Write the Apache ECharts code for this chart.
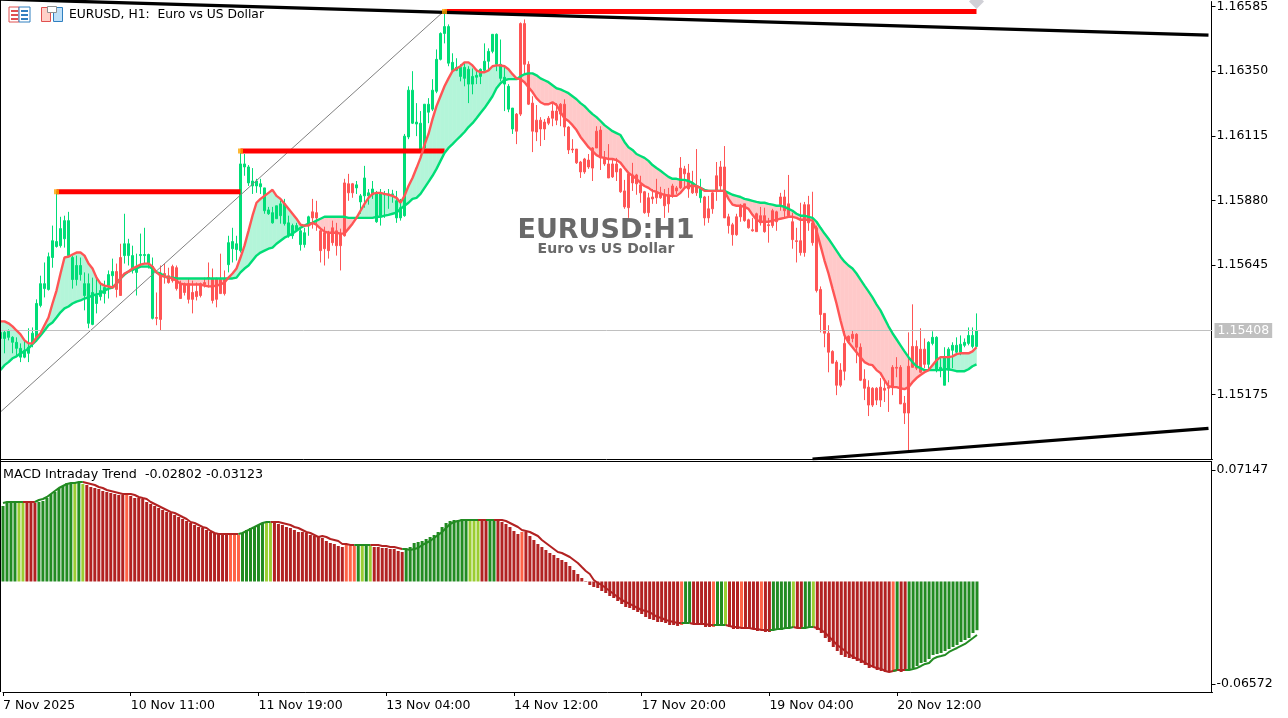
<!DOCTYPE html>
<html><head><meta charset="utf-8">
<script src="https://cdn.jsdelivr.net/npm/echarts@6/dist/echarts.min.js"></script>
<style>html,body{margin:0;padding:0;background:#fff}#c{width:1288px;height:718px}</style>
</head><body><div id="c"></div>
<script>
const open=[1.15379,1.15379,1.15383,1.15365,1.15343,1.15311,1.15311,1.15325,1.15361,1.15383,
1.15499,1.15560,1.15557,1.15673,1.15713,1.15716,1.15741,1.15680,1.15593,1.15593,
1.15611,1.15535,1.15434,1.15430,1.15506,1.15531,1.15542,1.15571,1.15607,1.15622,
1.15673,1.15680,1.15680,1.15626,1.15619,1.15680,1.15680,1.15651,1.15452,1.15455,
1.15607,1.15615,1.15607,1.15640,1.15636,1.15578,1.15578,1.15578,1.15546,1.15550,
1.15578,1.15582,1.15600,1.15597,1.15597,1.15593,1.15593,1.15647,1.15705,1.15702,
1.15698,1.16002,1.15944,1.15933,1.15933,1.15930,1.15843,1.15832,1.15799,1.15814,
1.15825,1.15796,1.15752,1.15752,1.15774,1.15720,1.15720,1.15789,1.15839,1.15836,
1.15770,1.15763,1.15763,1.15781,1.15770,1.15760,1.15944,1.15941,1.15941,1.15926,
1.15875,1.15897,1.15897,1.15901,1.15803,1.15825,1.15901,1.15901,1.15901,1.15817,
1.15817,1.15825,1.16111,1.16161,1.16158,1.16067,1.16071,1.16201,1.16212,1.16277,
1.16393,1.16487,1.16379,1.16353,1.16353,1.16331,1.16324,1.16303,1.16303,1.16328,
1.16331,1.16353,1.16386,1.16422,1.16375,1.16324,1.16303,1.16212,1.16140,1.16194,
1.16523,1.16523,1.16375,1.16234,1.16172,1.16172,1.16165,1.16179,1.16205,1.16205,
1.16230,1.16230,1.16147,1.16067,1.16067,1.16020,1.16031,1.16027,1.16071,1.16132,
1.16136,1.16035,1.16013,1.16013,1.16013,1.15995,1.15915,1.15977,1.15973,1.15973,
1.15937,1.15912,1.15890,1.15893,1.15908,1.15908,1.15901,1.15901,1.15933,1.15926,
1.15998,1.15995,1.15980,1.15944,1.15933,1.15890,1.15893,1.15850,1.15908,1.15970,
1.16002,1.16002,1.15821,1.15792,1.15821,1.15857,1.15868,1.15810,1.15774,1.15832,
1.15825,1.15825,1.15792,1.15843,1.15839,1.15893,1.15893,1.15868,1.15803,1.15734,
1.15734,1.15865,1.15865,1.15799,1.15781,1.15557,1.15470,1.15398,1.15332,1.15293,
1.15264,1.15361,1.15387,1.15394,1.15394,1.15347,1.15231,1.15202,1.15198,1.15198,
1.15202,1.15198,1.15202,1.15274,1.15274,1.15274,1.15144,1.15278,1.15350,1.15350,
1.15340,1.15340,1.15285,1.15361,1.15264,1.15267,1.15209,1.15264,1.15336,1.15329,
1.15329,1.15354,1.15361,1.15350,1.15350];
const close=[1.15401,1.15401,1.15405,1.15383,1.15365,1.15343,1.15336,1.15347,1.15398,1.15506,
1.15578,1.15578,1.15676,1.15734,1.15731,1.15778,1.15807,1.15807,1.15673,1.15644,
1.15644,1.15578,1.15578,1.15546,1.15535,1.15553,1.15564,1.15611,1.15622,1.15557,
1.15535,1.15723,1.15723,1.15680,1.15633,1.15684,1.15684,1.15684,1.15640,1.15452,
1.15448,1.15607,1.15582,1.15589,1.15560,1.15524,1.15546,1.15521,1.15521,1.15531,
1.15535,1.15575,1.15597,1.15517,1.15521,1.15542,1.15542,1.15727,1.15731,1.15723,
1.16013,1.16013,1.16002,1.15951,1.15951,1.15941,1.15926,1.15846,1.15836,1.15861,
1.15868,1.15868,1.15799,1.15789,1.15789,1.15770,1.15763,1.15821,1.15817,1.15817,
1.15698,1.15705,1.15698,1.15727,1.15716,1.15716,1.15752,1.15908,1.15908,1.15937,
1.15897,1.15962,1.15908,1.15922,1.15908,1.15904,1.15904,1.15904,1.15904,1.15879,
1.15854,1.16114,1.16281,1.16281,1.16165,1.16161,1.16230,1.16230,1.16281,1.16393,
1.16487,1.16512,1.16512,1.16382,1.16364,1.16364,1.16364,1.16357,1.16331,1.16335,
1.16357,1.16386,1.16422,1.16484,1.16484,1.16375,1.16328,1.16295,1.16216,1.16132,
1.16194,1.16375,1.16230,1.16132,1.16129,1.16140,1.16140,1.16161,1.16179,1.16172,
1.16194,1.16147,1.16064,1.16064,1.16017,1.15984,1.15984,1.16002,1.15998,1.16071,
1.16035,1.16013,1.15962,1.15966,1.15984,1.15912,1.15857,1.15854,1.15944,1.15941,
1.15908,1.15836,1.15836,1.15886,1.15890,1.15890,1.15861,1.15868,1.15901,1.15915,
1.15926,1.15977,1.15922,1.15908,1.15908,1.15926,1.15817,1.15817,1.15850,1.15915,
1.15933,1.15817,1.15789,1.15756,1.15756,1.15821,1.15807,1.15781,1.15770,1.15767,
1.15799,1.15767,1.15789,1.15789,1.15803,1.15865,1.15843,1.15825,1.15738,1.15731,
1.15691,1.15691,1.15799,1.15727,1.15553,1.15466,1.15398,1.15329,1.15289,1.15209,
1.15209,1.15260,1.15369,1.15379,1.15347,1.15227,1.15198,1.15137,1.15137,1.15155,
1.15155,1.15191,1.15198,1.15206,1.15271,1.15141,1.15108,1.15108,1.15274,1.15271,
1.15256,1.15285,1.15365,1.15383,1.15383,1.15274,1.15311,1.15340,1.15354,1.15354,
1.15358,1.15365,1.15390,1.15390,1.15408];
const high=[1.15408,1.15408,1.15412,1.15387,1.15383,1.15361,1.15372,1.15416,1.15419,1.15521,
1.15607,1.15655,1.15691,1.15789,1.15915,1.15821,1.15825,1.15839,1.15680,1.15680,
1.15673,1.15619,1.15615,1.15600,1.15607,1.15578,1.15589,1.15626,1.15669,1.15651,
1.15723,1.15832,1.15741,1.15716,1.15687,1.15760,1.15781,1.15687,1.15673,1.15546,
1.15644,1.15651,1.15636,1.15647,1.15644,1.15589,1.15582,1.15597,1.15589,1.15582,
1.15582,1.15600,1.15655,1.15633,1.15600,1.15687,1.15626,1.15752,1.15781,1.15752,
1.16053,1.16049,1.16009,1.15998,1.15959,1.15959,1.15926,1.15857,1.15857,1.15861,
1.15879,1.15886,1.15825,1.15796,1.15799,1.15781,1.15781,1.15825,1.15886,1.15879,
1.15778,1.15785,1.15770,1.15807,1.15799,1.15778,1.15959,1.15977,1.15944,1.15951,
1.15904,1.16006,1.15922,1.15951,1.15915,1.15922,1.15915,1.15922,1.15919,1.15915,
1.15886,1.16122,1.16295,1.16350,1.16234,1.16205,1.16230,1.16252,1.16321,1.16429,
1.16491,1.16563,1.16520,1.16415,1.16397,1.16375,1.16379,1.16368,1.16360,1.16357,
1.16360,1.16451,1.16433,1.16484,1.16487,1.16465,1.16368,1.16303,1.16216,1.16198,
1.16527,1.16538,1.16386,1.16259,1.16227,1.16183,1.16176,1.16187,1.16234,1.16234,
1.16234,1.16248,1.16150,1.16103,1.16067,1.16024,1.16035,1.16049,1.16074,1.16150,
1.16150,1.16060,1.16085,1.16031,1.16035,1.15998,1.15955,1.15980,1.16017,1.15977,
1.15970,1.15915,1.15908,1.15922,1.15959,1.15930,1.15922,1.15926,1.15941,1.15933,
1.16038,1.16006,1.16013,1.15988,1.16067,1.15959,1.15897,1.15897,1.15915,1.16020,
1.16024,1.16078,1.15832,1.15799,1.15832,1.15868,1.15868,1.15814,1.15817,1.15836,
1.15857,1.15854,1.15817,1.15850,1.15843,1.15908,1.15919,1.15973,1.15836,1.15781,
1.15872,1.15875,1.15897,1.15912,1.15789,1.15568,1.15470,1.15427,1.15336,1.15300,
1.15289,1.15408,1.15390,1.15408,1.15398,1.15361,1.15267,1.15227,1.15202,1.15202,
1.15235,1.15235,1.15227,1.15282,1.15311,1.15282,1.15170,1.15401,1.15503,1.15372,
1.15416,1.15379,1.15369,1.15405,1.15387,1.15311,1.15347,1.15347,1.15365,1.15383,
1.15390,1.15379,1.15419,1.15419,1.15470];
const low=[1.15329,1.15325,1.15372,1.15325,1.15318,1.15293,1.15307,1.15293,1.15347,1.15372,
1.15492,1.15528,1.15553,1.15636,1.15709,1.15709,1.15709,1.15673,1.15560,1.15571,
1.15589,1.15481,1.15416,1.15427,1.15470,1.15517,1.15506,1.15524,1.15564,1.15528,
1.15535,1.15651,1.15644,1.15615,1.15535,1.15636,1.15651,1.15633,1.15448,1.15427,
1.15408,1.15578,1.15578,1.15582,1.15553,1.15524,1.15535,1.15506,1.15470,1.15517,
1.15528,1.15564,1.15564,1.15506,1.15492,1.15542,1.15535,1.15619,1.15655,1.15662,
1.15691,1.15970,1.15933,1.15904,1.15908,1.15904,1.15832,1.15828,1.15796,1.15814,
1.15796,1.15789,1.15745,1.15741,1.15770,1.15698,1.15709,1.15752,1.15778,1.15770,
1.15655,1.15644,1.15669,1.15716,1.15680,1.15626,1.15749,1.15879,1.15890,1.15904,
1.15832,1.15854,1.15865,1.15886,1.15799,1.15789,1.15817,1.15850,1.15872,1.15799,
1.15807,1.15821,1.16103,1.16158,1.16114,1.16060,1.16060,1.16161,1.16205,1.16270,
1.16389,1.16451,1.16368,1.16350,1.16350,1.16313,1.16295,1.16234,1.16266,1.16303,
1.16303,1.16350,1.16357,1.16415,1.16350,1.16313,1.16205,1.16201,1.16122,1.16085,
1.16187,1.16342,1.16227,1.16056,1.16096,1.16078,1.16100,1.16154,1.16150,1.16154,
1.16150,1.16114,1.16049,1.16053,1.16013,1.15962,1.15977,1.15995,1.15951,1.16071,
1.15991,1.16006,1.15962,1.15962,1.15951,1.15908,1.15850,1.15817,1.15915,1.15901,
1.15872,1.15832,1.15821,1.15868,1.15868,1.15886,1.15817,1.15836,1.15890,1.15904,
1.15922,1.15926,1.15890,1.15904,1.15897,1.15872,1.15789,1.15799,1.15832,1.15879,
1.15915,1.15817,1.15760,1.15716,1.15752,1.15803,1.15803,1.15778,1.15767,1.15767,
1.15789,1.15763,1.15727,1.15781,1.15770,1.15843,1.15817,1.15817,1.15705,1.15655,
1.15680,1.15676,1.15770,1.15716,1.15546,1.15401,1.15347,1.15256,1.15289,1.15173,
1.15202,1.15227,1.15361,1.15365,1.15289,1.15224,1.15155,1.15097,1.15130,1.15137,
1.15130,1.15148,1.15112,1.15173,1.15238,1.15141,1.15068,1.14970,1.15274,1.15264,
1.15253,1.15271,1.15264,1.15354,1.15256,1.15238,1.15209,1.15220,1.15271,1.15318,
1.15318,1.15347,1.15354,1.15343,1.15347];
const fastMA=[1.15441,1.15441,1.15434,1.15423,1.15408,1.15394,1.15372,1.15361,1.15361,1.15383,
1.15398,1.15427,1.15455,1.15506,1.15553,1.15615,1.15673,1.15676,1.15684,1.15691,
1.15691,1.15680,1.15651,1.15633,1.15600,1.15578,1.15571,1.15568,1.15564,1.15578,
1.15597,1.15615,1.15622,1.15633,1.15640,1.15647,1.15651,1.15651,1.15640,1.15619,
1.15607,1.15604,1.15600,1.15597,1.15589,1.15578,1.15575,1.15575,1.15575,1.15575,
1.15575,1.15571,1.15568,1.15568,1.15571,1.15575,1.15582,1.15600,1.15615,1.15633,
1.15673,1.15716,1.15770,1.15825,1.15872,1.15886,1.15897,1.15908,1.15919,1.15897,
1.15886,1.15868,1.15850,1.15832,1.15814,1.15792,1.15789,1.15789,1.15799,1.15792,
1.15778,1.15767,1.15763,1.15763,1.15763,1.15760,1.15760,1.15778,1.15796,1.15817,
1.15843,1.15868,1.15890,1.15904,1.15908,1.15908,1.15904,1.15901,1.15897,1.15890,
1.15872,1.15897,1.15933,1.15962,1.15998,1.16035,1.16082,1.16122,1.16176,1.16223,
1.16259,1.16295,1.16324,1.16350,1.16360,1.16368,1.16382,1.16382,1.16371,1.16353,
1.16346,1.16346,1.16353,1.16368,1.16371,1.16371,1.16368,1.16357,1.16339,1.16324,
1.16321,1.16310,1.16292,1.16274,1.16252,1.16237,1.16230,1.16230,1.16237,1.16227,
1.16201,1.16179,1.16169,1.16154,1.16136,1.16111,1.16093,1.16074,1.16060,1.16045,
1.16038,1.16035,1.16031,1.16031,1.16027,1.16017,1.15998,1.15980,1.15970,1.15959,
1.15944,1.15933,1.15926,1.15915,1.15912,1.15904,1.15901,1.15897,1.15897,1.15897,
1.15908,1.15926,1.15933,1.15933,1.15933,1.15926,1.15915,1.15915,1.15915,1.15915,
1.15915,1.15915,1.15886,1.15865,1.15861,1.15861,1.15857,1.15850,1.15828,1.15810,
1.15803,1.15803,1.15803,1.15807,1.15810,1.15814,1.15817,1.15821,1.15821,1.15817,
1.15810,1.15810,1.15810,1.15807,1.15770,1.15716,1.15662,1.15615,1.15560,1.15506,
1.15445,1.15390,1.15365,1.15347,1.15329,1.15311,1.15293,1.15285,1.15282,1.15264,
1.15253,1.15227,1.15206,1.15202,1.15202,1.15198,1.15195,1.15202,1.15220,1.15235,
1.15246,1.15256,1.15264,1.15282,1.15300,1.15311,1.15311,1.15311,1.15314,1.15322,
1.15325,1.15325,1.15325,1.15332,1.15347];
const slowMA=[1.15264,1.15282,1.15293,1.15307,1.15314,1.15325,1.15332,1.15343,1.15358,1.15372,
1.15390,1.15408,1.15427,1.15437,1.15455,1.15474,1.15488,1.15495,1.15506,1.15513,
1.15517,1.15524,1.15528,1.15535,1.15539,1.15542,1.15553,1.15560,1.15564,1.15578,
1.15597,1.15611,1.15622,1.15629,1.15633,1.15640,1.15640,1.15640,1.15633,1.15619,
1.15615,1.15604,1.15600,1.15600,1.15597,1.15597,1.15597,1.15597,1.15597,1.15597,
1.15597,1.15597,1.15597,1.15597,1.15597,1.15597,1.15597,1.15597,1.15597,1.15600,
1.15619,1.15633,1.15644,1.15662,1.15680,1.15691,1.15698,1.15705,1.15709,1.15723,
1.15734,1.15745,1.15752,1.15760,1.15770,1.15781,1.15789,1.15796,1.15799,1.15807,
1.15814,1.15821,1.15821,1.15821,1.15821,1.15821,1.15821,1.15817,1.15817,1.15817,
1.15817,1.15817,1.15817,1.15817,1.15821,1.15821,1.15825,1.15828,1.15832,1.15836,
1.15850,1.15861,1.15872,1.15886,1.15890,1.15904,1.15926,1.15948,1.15970,1.15995,
1.16024,1.16053,1.16071,1.16085,1.16100,1.16114,1.16129,1.16147,1.16161,1.16179,
1.16198,1.16216,1.16237,1.16259,1.16288,1.16306,1.16317,1.16321,1.16321,1.16321,
1.16331,1.16339,1.16342,1.16342,1.16335,1.16324,1.16317,1.16310,1.16299,1.16288,
1.16284,1.16277,1.16270,1.16259,1.16248,1.16234,1.16223,1.16208,1.16194,1.16183,
1.16169,1.16154,1.16143,1.16132,1.16125,1.16118,1.16093,1.16074,1.16064,1.16049,
1.16042,1.16035,1.16024,1.16009,1.15998,1.15988,1.15977,1.15966,1.15959,1.15959,
1.15955,1.15955,1.15951,1.15944,1.15933,1.15926,1.15919,1.15915,1.15915,1.15915,
1.15915,1.15915,1.15908,1.15901,1.15897,1.15893,1.15886,1.15883,1.15879,1.15875,
1.15872,1.15872,1.15868,1.15865,1.15861,1.15861,1.15857,1.15850,1.15843,1.15832,
1.15825,1.15825,1.15821,1.15817,1.15803,1.15781,1.15760,1.15741,1.15720,1.15698,
1.15676,1.15658,1.15644,1.15633,1.15615,1.15593,1.15571,1.15550,1.15528,1.15503,
1.15481,1.15452,1.15423,1.15398,1.15376,1.15354,1.15332,1.15311,1.15293,1.15278,
1.15271,1.15264,1.15264,1.15264,1.15264,1.15264,1.15267,1.15267,1.15264,1.15260,
1.15260,1.15260,1.15267,1.15278,1.15285];
const macdHist=[.0484,.05032,.05096,.05096,.05032,.05032,.05032,.05032,.05032,.05096,
.0516,.05352,.05609,.05737,.05993,.06122,.06314,.06314,.06314,.06314,
.0625,.06186,.06058,.05993,.05929,.05801,.05737,.05673,.05609,.05545,
.05545,.05545,.05481,.05352,.05352,.05288,.05096,.04968,.0484,.04711,
.04583,.04455,.04391,.04263,.04134,.04006,.03878,.0375,.03622,.03493,
.03429,.03301,.03173,.03109,.03045,.02981,.02981,.02981,.02981,.02981,
.03109,.03301,.03429,.03493,.03622,.0375,.03814,.0375,.0375,.03686,
.03622,.03493,.03429,.03301,.03173,.03173,.03109,.02981,.02917,.02852,
.02788,.02596,.02468,.02404,.02276,.02211,.0234,.02276,.02276,.02276,
.02276,.02276,.02276,.02211,.02211,.02147,.02147,.02083,.02083,.01955,
.01891,.02019,.02211,.02468,.02532,.02596,.02724,.02852,.02981,.03173,
.03493,.0375,.03878,.03942,.03942,.04006,.04006,.03878,.03878,.03878,
.03878,.03878,.03942,.03942,.03878,.03814,.03686,.03493,.03237,.03045,
.03173,.03173,.02917,.0266,.02404,.02211,.02019,.01827,.01699,.01506,
.01378,.0125,.00994,.00737,.00481,.00224,.00032,-.00224,-.00353,-.00417,
-.00609,-.00737,-.00929,-.01058,-.0125,-.01442,-.01635,-.01699,-.01827,-.01955,
-.02083,-.02276,-.02404,-.02468,-.02596,-.02596,-.0266,-.02788,-.02788,-.02852,
-.02788,-.0266,-.0266,-.02724,-.02724,-.02788,-.02917,-.02917,-.02917,-.02788,
-.02788,-.02788,-.02917,-.03045,-.03045,-.02917,-.03045,-.03045,-.03045,-.03173,
-.03109,-.03237,-.03237,-.03109,-.03109,-.03109,-.03045,-.02981,-.02917,-.02981,
-.03045,-.02981,-.02917,-.02917,-.03109,-.03301,-.03622,-.03878,-.04199,-.04455,
-.04711,-.0484,-.04904,-.04968,-.05096,-.05224,-.05352,-.05545,-.05481,-.05673,
-.05737,-.05801,-.05801,-.05737,-.05673,-.05801,-.05737,-.05673,-.05545,-.05417,
-.05224,-.0516,-.04968,-.04711,-.04647,-.04583,-.04455,-.04327,-.04199,-.0407,
-.03878,-.0375,-.03622,-.03301,-.03123];
const macdLine=[.05032,.05096,.05096,.05096,.05096,.05096,.05096,.05096,.05096,.05224,
.05288,.05417,.05609,.05801,.05993,.06122,.0625,.06314,.06314,.06378,
.06378,.06314,.0625,.06186,.06058,.05993,.05865,.05801,.05737,.05673,
.05609,.05609,.05609,.05545,.05417,.05352,.05288,.05096,.04968,.0484,
.04711,.04583,.04455,.04391,.04263,.04134,.04006,.03814,.0375,.03622,
.03493,.03429,.03237,.03109,.03045,.03045,.03045,.03045,.03045,.03045,
.03109,.03237,.03365,.03493,.03622,.0375,.03814,.03814,.03814,.03814,
.0375,.03686,.03622,.03493,.03429,.03301,.03173,.03109,.02981,.02852,
.02917,.02852,.02724,.0266,.02596,.02404,.02404,.0234,.0234,.0234,
.0234,.0234,.0234,.0234,.0234,.02276,.02276,.02211,.02211,.02147,
.02083,.02083,.02019,.02083,.02147,.0234,.02468,.02596,.02788,.02981,
.03173,.03429,.03686,.03814,.03878,.03942,.03942,.03942,.03942,.03942,
.03942,.03942,.03942,.03942,.03942,.03942,.03878,.0375,.03622,.03493,
.03301,.03237,.03173,.03045,.02917,.0266,.02468,.02276,.02083,.01891,
.01827,.01699,.0157,.01378,.01186,.00929,.00673,.00481,.00096,-.00096,
-.00224,-.00417,-.00609,-.00801,-.00994,-.01186,-.01314,-.01442,-.0157,-.01699,
-.01827,-.01891,-.01955,-.02147,-.02276,-.0234,-.02468,-.02532,-.02596,-.0266,
-.0266,-.0266,-.0266,-.02724,-.02724,-.02724,-.02724,-.02788,-.02788,-.02788,
-.02788,-.02788,-.02852,-.02917,-.02917,-.02981,-.02981,-.02981,-.03045,-.03045,
-.03109,-.03109,-.03109,-.03109,-.03045,-.03045,-.02981,-.02981,-.02917,-.02981,
-.02981,-.02981,-.02917,-.02917,-.02981,-.03109,-.03301,-.03558,-.03814,-.0407,
-.04263,-.04455,-.04647,-.0484,-.04968,-.05032,-.05224,-.05352,-.05481,-.05545,
-.05609,-.05737,-.05801,-.05737,-.05673,-.05673,-.05673,-.05673,-.05609,-.05545,
-.05417,-.05288,-.05224,-.04968,-.0484,-.04776,-.04711,-.04519,-.04391,-.04263,
-.04134,-.04006,-.03814,-.03622,-.03429];
const histColorIdx=[0,0,0,0,1,1,2,2,2,0,0,0,0,0,0,0,0,0,1,0,1,2,2,2,2,2,2,2,2,2,2,3,
2,2,2,2,2,2,2,2,2,2,2,2,2,2,2,2,2,2,2,2,2,2,2,2,2,3,3,3,0,0,0,0,0,0,1,1,
2,2,2,2,2,2,2,2,2,2,2,2,2,2,2,2,2,2,3,3,3,0,1,0,1,2,2,2,2,2,2,2,2,
0,0,0,0,0,0,0,0,0,0,0,0,0,0,0,0,1,1,1,2,2,0,0,2,2,2,2,2,2,3,
2,2,2,2,2,2,2,2,2,2,2,2,2,2,2,2,2,2,2,2,2,2,2,2,2,2,2,2,2,2,2,2,2,2,2,2,2,2,2,
3,0,0,2,2,2,2,2,3,0,0,1,2,2,2,3,2,2,2,2,3,2,2,0,0,0,0,0,1,2,2,0,0,1,
2,2,2,2,2,2,2,2,2,2,2,2,2,2,2,2,2,2,2,3,0,2,2,0,0,0,0,0,0,0,0,0,0,0,0,0,0,0,0,0,0];
const tickLabels=['7 Nov 2025','10 Nov 11:00','11 Nov 19:00','13 Nov 04:00','14 Nov 12:00','17 Nov 20:00','19 Nov 04:00','20 Nov 12:00'];
const priceTicks=[1.16585,1.16350,1.16115,1.15880,1.15645,1.15175];
const macdTicks=[0.07147,-0.06572];
const lastPrice=1.15408;
const levelStart=[14,60,111], levelEnd=[60,111,244], levelPrice=[1.15912,1.16060,1.16567];
const upperTrend=[[0,1.16612],[302,1.16481]];
const lowerTrend=[[203,1.14941],[302,1.15052]];
const diagonal=[[0,1.15112],[111,1.16570]];
const title='EURUSD, H1:  Euro vs US Dollar';
const macdTitle='MACD Intraday Trend  -0.02802 -0.03123';

const font='"DejaVu Sans"';
const N=open.length, SLOTS=304, STEP=32;
const categories=Array.from({length:SLOTS},(_,i)=>i%STEP===0?(tickLabels[i/STEP]||''):'');
const palette=['#228B22','#9ACD32','#B22222','#FF6347'];
const GREEN='#00DD77',RED='#FF5555';
const isUp=i=>histColorIdx[i]<2;
const fillData=[];
for(let i=0;i<N-1;i++)fillData.push([i,fastMA[i],slowMA[i],fastMA[i+1],slowMA[i+1]]);
const lineGreen=macdLine.map((v,i)=>(isUp(i)||(i+1<N&&isUp(i+1)))?v:null);
const lineRed=macdLine.map((v,i)=>(!isUp(i)||(i+1<N&&!isUp(i+1)))?v:null);
const tickOn=i=>i%STEP===0&&i/STEP<tickLabels.length;

const levelSeries=levelStart.map((s,k)=>({type:'line',xAxisIndex:0,yAxisIndex:0,z:4,silent:true,symbol:'none',
  lineStyle:{color:'#FF0000',width:5,cap:'butt'},data:[[s,levelPrice[k]],[levelEnd[k],levelPrice[k]]]}));
const chart=echarts.init(document.getElementById('c'),null,{renderer:'canvas'});
chart.setOption({
  animation:false,backgroundColor:'#fff',
  grid:[{left:0.5,top:0,width:1212,height:459},{left:0.5,top:462,width:1212,height:230}],
  xAxis:[
    {type:'category',gridIndex:0,data:categories,boundaryGap:false,axisLabel:{show:false},axisTick:{show:false},axisLine:{onZero:false,lineStyle:{color:'#000',width:1}},splitLine:{show:false}},
    {type:'category',gridIndex:1,data:categories,boundaryGap:false,
     axisLine:{onZero:false,lineStyle:{color:'#000',width:1}},axisTick:{length:4,interval:i=>tickOn(i),lineStyle:{color:'#000'}},
     axisLabel:{interval:i=>tickOn(i),align:'left',color:'#000',fontFamily:font,fontSize:12.5,margin:7,hideOverlap:false},splitLine:{show:false}}
  ],
  yAxis:[
    {type:'value',gridIndex:0,position:'right',offset:-1,min:1.14941,max:1.16603,splitLine:{show:false},
     axisLine:{show:true,lineStyle:{color:'#000'}},axisTick:{show:true,length:4,customValues:priceTicks,lineStyle:{color:'#000'}},
     axisLabel:{customValues:priceTicks,formatter:v=>Number(v).toFixed(5),color:'#000',fontFamily:font,fontSize:12.5,margin:5,hideOverlap:false,showMinLabel:true,showMaxLabel:true}},
    {type:'value',gridIndex:1,position:'right',offset:-1,min:-0.07085,max:0.0766,splitLine:{show:false},
     axisLine:{show:true,lineStyle:{color:'#000'}},axisTick:{show:true,length:4,customValues:macdTicks,lineStyle:{color:'#000'}},
     axisLabel:{customValues:macdTicks,formatter:v=>Number(v).toFixed(5),color:'#000',fontFamily:font,fontSize:12.5,margin:5,hideOverlap:false,showMinLabel:true,showMaxLabel:true}}
  ],
  series:[
    {type:'custom',xAxisIndex:0,yAxisIndex:0,z:1,silent:true,clip:true,data:fillData,encode:{x:0,y:[1,2]},
     renderItem:(p,api)=>{const i=api.value(0),a=api.coord([i,api.value(1)]),b=api.coord([i,api.value(2)]),
       c=api.coord([i+1,api.value(4)]),d=api.coord([i+1,api.value(3)]);
       const col=api.value(1)>=api.value(2)?'#B3F5D9':'#FFC9C9';
       return {type:'polygon',shape:{points:[a,d,c,b]},style:{fill:col,stroke:col,lineWidth:0.6}};}},
    {type:'candlestick',xAxisIndex:0,yAxisIndex:0,z:2,silent:true,barWidth:2,clip:true,
     data:open.map((o,i)=>[o,close[i],low[i],high[i]]),
     itemStyle:{color:GREEN,color0:RED,borderColor:GREEN,borderColor0:RED,borderWidth:1}},
    {type:'line',xAxisIndex:0,yAxisIndex:0,z:3,silent:true,symbol:'none',lineStyle:{color:'#808080',width:1},data:diagonal},
    ...levelSeries,
    {type:'scatter',xAxisIndex:0,yAxisIndex:0,z:6,silent:true,symbol:'rect',symbolSize:5,itemStyle:{color:'#FFA500'},
     data:levelStart.map((s,k)=>[s,levelPrice[k]])},
    {type:'line',xAxisIndex:0,yAxisIndex:0,z:5,silent:true,symbol:'none',clip:true,lineStyle:{color:'#000',width:3.2},data:upperTrend},
    {type:'line',xAxisIndex:0,yAxisIndex:0,z:5,silent:true,symbol:'none',clip:true,lineStyle:{color:'#000',width:3.2},data:lowerTrend},
    {type:'line',xAxisIndex:0,yAxisIndex:0,z:5,silent:true,symbol:'none',lineStyle:{color:'#00DD77',width:2.4},data:slowMA,
     markLine:{silent:true,symbol:'none',animation:false,precision:5,data:[{yAxis:lastPrice}],lineStyle:{color:'#C0C0C0',width:1,type:'solid'},
       label:{position:'end',distance:2,formatter:()=>lastPrice.toFixed(5),color:'#fff',backgroundColor:'#C0C0C0',fontFamily:font,fontSize:12.5,padding:[1,3,1,3]}}},
    {type:'line',xAxisIndex:0,yAxisIndex:0,z:5,silent:true,symbol:'none',lineStyle:{color:'#FF5555',width:2.4},data:fastMA},
    {type:'scatter',xAxisIndex:0,yAxisIndex:0,z:6,silent:true,symbol:'diamond',symbolSize:15,itemStyle:{color:'#C4C4CC'},data:[[244,1.16603]]},
    {type:'bar',xAxisIndex:1,yAxisIndex:1,z:2,silent:true,barWidth:3,
     data:macdHist.map((v,i)=>({value:v,itemStyle:{color:palette[histColorIdx[i]]}}))},
    {type:'line',xAxisIndex:1,yAxisIndex:1,z:3,silent:true,symbol:'none',connectNulls:false,lineStyle:{color:'#B22222',width:2},data:lineRed},
    {type:'line',xAxisIndex:1,yAxisIndex:1,z:4,silent:true,symbol:'none',connectNulls:false,lineStyle:{color:'#228B22',width:2},data:lineGreen}
  ],
  graphic:[
    {type:'line',silent:true,z:50,shape:{x1:0.5,y1:0,x2:0.5,y2:692},style:{stroke:'#000',lineWidth:1}},
    {type:'line',silent:true,z:50,shape:{x1:0,y1:461.5,x2:1212,y2:461.5},style:{stroke:'#000',lineWidth:1}},
    {type:'text',silent:true,z:1,x:606,y:231,style:{text:'EURUSD:H1',fill:'#696969',font:'bold 27px '+font,textAlign:'center',textVerticalAlign:'middle'}},
    {type:'text',silent:true,z:1,x:606,y:249,style:{text:'Euro vs US Dollar',fill:'#696969',font:'bold 14px '+font,textAlign:'center',textVerticalAlign:'middle'}},
    {type:'text',silent:true,z:60,x:69,y:15,style:{text:title,fill:'#000',font:'12.3px '+font,textVerticalAlign:'middle'}},
    {type:'text',silent:true,z:60,x:3,y:475,style:{text:macdTitle,fill:'#000',font:'12.7px '+font,textVerticalAlign:'middle'}},
    {type:'group',z:60,silent:true,children:[
      {type:'rect',shape:{x:9,y:7,width:10,height:15},style:{fill:'#fff',stroke:'#E05050',lineWidth:1}},
      {type:'rect',shape:{x:19,y:7,width:11,height:15},style:{fill:'#fff',stroke:'#3080C0',lineWidth:1}},
      {type:'rect',shape:{x:11,y:10,width:7,height:2},style:{fill:'#E05050'}},
      {type:'rect',shape:{x:11,y:14,width:7,height:2},style:{fill:'#E05050'}},
      {type:'rect',shape:{x:11,y:18,width:7,height:2},style:{fill:'#E05050'}},
      {type:'rect',shape:{x:21,y:10,width:7,height:2},style:{fill:'#3080C0'}},
      {type:'rect',shape:{x:21,y:14,width:7,height:2},style:{fill:'#3080C0'}},
      {type:'rect',shape:{x:21,y:18,width:7,height:2},style:{fill:'#3080C0'}},
      {type:'rect',shape:{x:41.5,y:7.5,width:9,height:14},style:{fill:'#FFD0C8',stroke:'#E05050',lineWidth:1}},
      {type:'rect',shape:{x:53.5,y:7.5,width:9,height:14},style:{fill:'#C0E0F8',stroke:'#3080C0',lineWidth:1}},
      {type:'rect',shape:{x:47.5,y:6.5,width:9,height:6},style:{fill:'#fff',stroke:'#909090',lineWidth:1}}
    ]}
  ]
});
</script></body></html>
